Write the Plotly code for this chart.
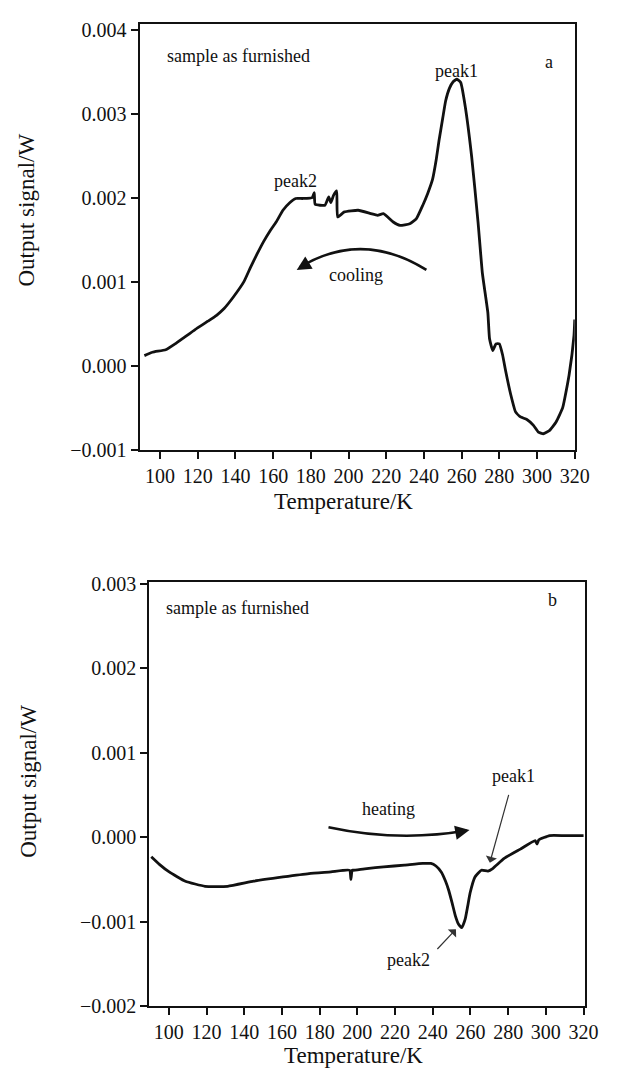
import plotly.graph_objects as go

# ---------- data: panel a (cooling) ----------
a_temp = [91.7, 96, 103, 108, 113, 118.6, 125.4, 130, 134, 139, 144.5, 148, 151.5, 155, 158.5, 161.6,
          165.2, 168.8, 172, 175.6, 180.7, 181.8, 182.3, 187.5, 189.5, 190.6, 192.1, 193.7, 194.2,
          197.8, 205.1, 211.8, 215.4, 218.5, 223.7, 227.3, 232.5, 236.0, 239.4, 242.0, 244.6,
          246.5, 248.0, 250.0, 251.5, 253.5, 255.5, 257.5, 259.5, 261.8, 265.3, 268.7, 271.0,
          273.9, 274.8, 276.5, 278.2, 280.0, 281.7, 283.4, 286.0, 288.6, 291.2, 294.6, 298.1,
          300.7, 303.3, 306.7, 310.1, 313.6, 317.0, 319.6, 320.0]
a_signal = [0.00012, 0.00016, 0.00019, 0.00026, 0.00034, 0.00043, 0.00053, 0.00060, 0.00068, 0.00082,
            0.00100, 0.00117, 0.00133, 0.00148, 0.00161, 0.00171, 0.00185, 0.00194, 0.00199, 0.00199,
            0.00200, 0.00206, 0.00192, 0.00191, 0.00201, 0.00194, 0.00203, 0.00208, 0.00177,
            0.00183, 0.00185, 0.00181, 0.00179, 0.00181, 0.00171, 0.00167, 0.00169, 0.00175,
            0.00191, 0.00205, 0.00222, 0.00245, 0.00268, 0.00295, 0.00315, 0.00330, 0.00338,
            0.00341, 0.00337, 0.00310, 0.00249, 0.00171, 0.00110, 0.00063, 0.00032, 0.00018,
            0.00026, 0.00026, 0.00013, -0.00007, -0.00034, -0.00055, -0.00061, -0.00064, -0.00071,
            -0.00079, -0.00081, -0.00077, -0.00067, -0.00050, -0.00011, 0.00036, 0.00055]

# ---------- data: panel b (heating) ----------
b_temp = [90.7, 95, 100.2, 108.8, 119.2, 131.2, 145, 160.6, 174.4, 186, 195.9, 196.6, 197.2, 197.8,
          205, 214, 225, 234.7, 239, 241.7, 244.5, 246.8, 248.5, 250.3, 252.0, 253.7, 255.4, 257.2,
          258.5, 259.8, 262.4, 265.8, 269.3, 271.8, 277.9, 286.5, 294.3, 295.3, 296.3, 302, 310, 320]
b_signal = [-0.00023, -0.00032, -0.00041, -0.00052, -0.00058, -0.00058, -0.00052, -0.00047, -0.00043,
            -0.00041, -0.00039, -0.00050, -0.00039, -0.00039, -0.00037, -0.00035, -0.00033, -0.00031,
            -0.00031, -0.00034, -0.00041, -0.00052, -0.00063, -0.00078, -0.00093, -0.00103, -0.00107,
            -0.00097, -0.00082, -0.00066, -0.00047, -0.00039, -0.00040, -0.00037, -0.00025, -0.00014,
            -0.00004, -0.00008, -0.00003, 0.00002, 0.00002, 0.00002]

# tick values / labels
x_ticks = [100, 120, 140, 160, 180, 200, 220, 240, 260, 280, 300, 320]
a_yticks = [-0.001, 0.000, 0.001, 0.002, 0.003, 0.004]
b_yticks = [-0.002, -0.001, 0.000, 0.001, 0.002, 0.003]

# annotation anchors (data coords)
cool_arc = [(241.3, 0.00114), (207.0, 0.00162), (174.0, 0.00117)]   # start, control, end
heat_arc = [(184.7, 0.00012), (222.0, -0.00006), (258.0, 0.00008)]
peak1_b_arrow = [(280.5, 0.00052), (270.3, -0.00030)]
peak2_b_arrow = [(241.7, -0.00134), (252.3, -0.00109)]

FONT = "Liberation Serif"
INK = "#111111"

fig = go.Figure()
fig.add_trace(go.Scatter(x=a_temp, y=a_signal, mode="lines",
                         line=dict(color=INK, width=2.8, shape="spline", smoothing=0.4),
                         xaxis="x", yaxis="y", showlegend=False, hoverinfo="skip"))
fig.add_trace(go.Scatter(x=b_temp, y=b_signal, mode="lines",
                         line=dict(color=INK, width=2.8, shape="spline", smoothing=0.4),
                         xaxis="x2", yaxis="y2", showlegend=False, hoverinfo="skip"))

W, H = 620, 1082
ax_common = dict(showline=True, linecolor=INK, linewidth=2, mirror=True, ticks="outside",
                 ticklen=7, tickwidth=2, tickcolor=INK, showgrid=False, zeroline=False,
                 tickfont=dict(family=FONT, size=20, color=INK))

fig.update_layout(
    width=W, height=H, margin=dict(l=0, r=0, t=0, b=0), autosize=False,
    paper_bgcolor="white", plot_bgcolor="white",
    font=dict(family=FONT, color=INK),
    xaxis=dict(domain=[143 / W, 589 / W], range=[89.13, 320], tickvals=x_ticks,
               anchor="y", **ax_common),
    yaxis=dict(domain=[1 - 449 / H, 1 - 15 / H], range=[-0.001, 0.00407], tickvals=a_yticks,
               tickformat=".3f", anchor="x", **ax_common),
    xaxis2=dict(domain=[153 / W, 599 / W], range=[89.65, 320.5], tickvals=x_ticks,
                anchor="y2", **ax_common),
    yaxis2=dict(domain=[1 - 1016 / H, 1 - 584 / H], range=[-0.002, 0.00302], tickvals=b_yticks,
                tickformat=".3f", anchor="x2", **ax_common),
)

def qpath(pts):
    (x0, y0), (cx, cy), (x1, y1) = pts
    return f"M {x0},{y0} Q {cx},{cy} {x1},{y1}"

fig.add_shape(type="path", path=qpath(cool_arc), xref="x", yref="y",
              line=dict(color=INK, width=2.6))
fig.add_shape(type="path", path=qpath(heat_arc), xref="x2", yref="y2",
              line=dict(color=INK, width=2.6))

ann = []
ann.append(dict(x=cool_arc[2][0] - 1.5, y=cool_arc[2][1] - 0.00003, xref="x", yref="y",
                ax=10, ay=-6, showarrow=True, arrowhead=2, arrowsize=1.1, arrowwidth=2.6,
                arrowcolor=INK, text=""))
ann.append(dict(x=heat_arc[2][0] + 1.5, y=heat_arc[2][1] + 0.000005, xref="x2", yref="y2",
                ax=-11, ay=2, showarrow=True, arrowhead=2, arrowsize=1.1, arrowwidth=2.6,
                arrowcolor=INK, text=""))
ann.append(dict(x=peak1_b_arrow[1][0], y=peak1_b_arrow[1][1], xref="x2", yref="y2",
                ax=peak1_b_arrow[0][0], ay=peak1_b_arrow[0][1], axref="x2", ayref="y2",
                showarrow=True, arrowhead=1, arrowsize=1.6, arrowwidth=1.2, arrowcolor="#333",
                text=""))
ann.append(dict(x=peak2_b_arrow[1][0], y=peak2_b_arrow[1][1], xref="x2", yref="y2",
                ax=peak2_b_arrow[0][0], ay=peak2_b_arrow[0][1], axref="x2", ayref="y2",
                showarrow=True, arrowhead=1, arrowsize=1.6, arrowwidth=1.2, arrowcolor="#333",
                text=""))

def label(text, x, y, xref, yref, size=18):
    return dict(text=text, x=x, y=y, xref=xref, yref=yref, showarrow=False,
                font=dict(family=FONT, size=size, color=INK), xanchor="center", yanchor="middle")

ann += [
    label("sample as furnished", 141.4, 0.003686, "x", "y"),
    label("a", 306.5, 0.003616, "x", "y"),
    label("peak1", 257.5, 0.00351, "x", "y"),
    label("peak2", 172.0, 0.00220, "x", "y"),
    label("cooling", 204.0, 0.00108, "x", "y"),
    label("sample as furnished", 136.2, 0.00271, "x2", "y2"),
    label("b", 303.4, 0.002814, "x2", "y2"),
    label("heating", 216.7, 0.00033, "x2", "y2"),
    label("peak1", 283.0, 0.00072, "x2", "y2"),
    label("peak2", 227.0, -0.00145, "x2", "y2"),
    dict(text="Output signal/W", x=27 / W, y=1 - 205 / H, xref="paper", yref="paper",
         textangle=-90, showarrow=False, font=dict(family=FONT, size=23, color=INK),
         xanchor="center", yanchor="middle"),
    dict(text="Output signal/W", x=29 / W, y=1 - 787 / H, xref="paper", yref="paper",
         textangle=-90, showarrow=False, font=dict(family=FONT, size=23, color=INK),
         xanchor="center", yanchor="middle"),
    dict(text="Temperature/K", x=352 / W, y=1 - 502 / H, xref="paper", yref="paper",
         showarrow=False, font=dict(family=FONT, size=23, color=INK),
         xanchor="center", yanchor="middle"),
    dict(text="Temperature/K", x=362 / W, y=1 - 1066 / H, xref="paper", yref="paper",
         showarrow=False, font=dict(family=FONT, size=23, color=INK),
         xanchor="center", yanchor="middle"),
]
fig.update_layout(annotations=ann)

fig.write_html("out.html")
